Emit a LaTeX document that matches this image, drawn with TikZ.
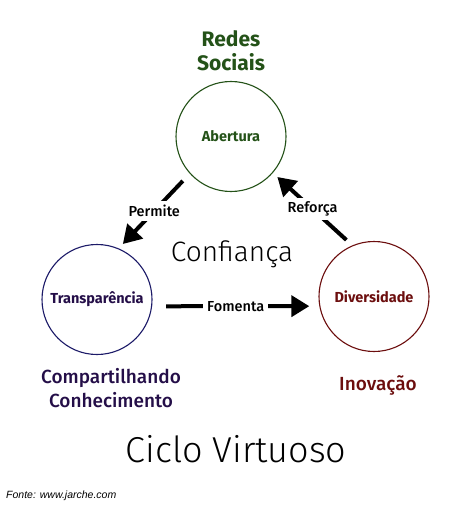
\documentclass[tikz,border=0pt]{standalone}
\usepackage{fontspec}
\setmainfont{Fira Sans}
\newfontfamily\lightfont{Fira Sans Light}
\newfontfamily\medfont{Fira Sans Medium}
\newfontfamily\notefont{Liberation Sans}
\usetikzlibrary{arrows,arrows.meta,positioning}
\definecolor{abgreen}{RGB}{36,82,24}
\definecolor{trnavy}{RGB}{28,26,104}
\definecolor{trtext}{RGB}{36,14,72}
\definecolor{dvred}{RGB}{108,14,14}

\begin{document}
\begin{tikzpicture}[
  x=1pt,y=-1pt,
  obj/.style={draw,circle,minimum size=110pt,inner sep=0pt,line width=1.1pt,
    font=\fontsize{14.5}{16}\selectfont\bfseries},
  link/.style={line width=4pt,-{Triangle[length=18pt,width=21pt]}},
  verb/.style={fill=white,inner sep=4pt,font=\fontsize{14.5}{16}\selectfont\medfont},
  tag/.style={align=center,font=\fontsize{19}{24}\selectfont\medfont}
]
  \useasboundingbox (0,0) rectangle (474,505);

  \node[obj,draw=abgreen,text=abgreen] (ab) at (231,136.5) {Abertura};
  \node[obj,draw=trnavy,text=trtext] (tr) at (97,299.5) {Transparência};
  \node[obj,draw=dvred,text=dvred] (dv) at (374,296.5) {Diversidade};

  \node[tag,text=abgreen,font=\fontsize{21}{24}\selectfont\bfseries] (redes) at (231,51) {Redes\\Sociais};
  \node[tag,text=trtext] (comp) at (111,388) {Compartilhando\\Conhecimento};
  \node[tag,text=dvred,anchor=base] (inov) at (378,390) {Inovação};

  \node[anchor=base,font=\fontsize{28}{32}\selectfont\lightfont] (conf) at (232,261) {Confiança};
  \node[anchor=base,font=\fontsize{36}{42}\selectfont\lightfont] (ciclo) at (236,462) {Ciclo Virtuoso};
  \node[anchor=base west,inner sep=0pt,font=\fontsize{10.5}{12}\selectfont\notefont\itshape] (fonte) at (6,498) {Fonte: www.jarche.com};

  \draw[link,shorten <=10pt,shorten >=6pt] (ab.222.5) -- node[verb] {Permite} (tr.67.7);
  \draw[link,shorten <=14pt,shorten >=10pt] (tr.-7) -- node[verb] {Fomenta} (dv.190);
  \draw[link,shorten <=8pt,shorten >=6pt] (dv.113.3) -- node[verb] {Reforça} (ab.319);
\end{tikzpicture}
\end{document}
